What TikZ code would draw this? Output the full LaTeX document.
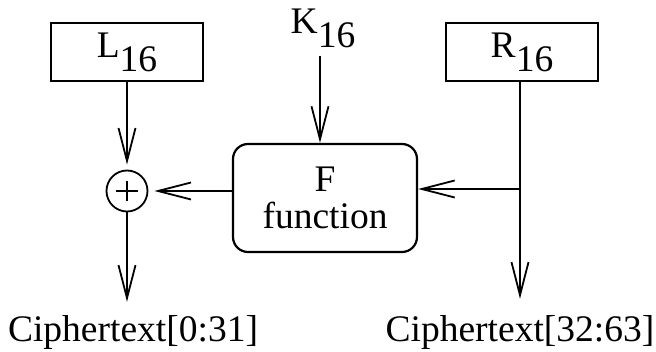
\documentclass[tikz,border=0pt]{standalone}
\usepackage{fontspec}
\setmainfont{Liberation Serif}
\usetikzlibrary{arrows.meta}
% full-size subscript, only lowered
\newcommand\lowsub[1]{\lower14pt\hbox{#1}}
\begin{document}
\begin{tikzpicture}[x=1pt,y=-1pt,
  every node/.style={font=\fontsize{37.5}{37}\selectfont, inner sep=0pt},
  regbox/.style={draw, line width=2.4pt, minimum width=152pt, minimum height=58pt},
  fbox/.style={draw, line width=2.2pt, rounded corners=15pt, minimum width=184pt,
    minimum height=108pt, align=center},
  xorc/.style={draw, circle, line width=1.8pt, minimum size=41pt,
    path picture={
      \draw[line width=1.8pt] ([xshift=-11pt]path picture bounding box.center) -- ([xshift=11pt]path picture bounding box.center);
      \draw[line width=1.8pt] ([yshift=-10pt]path picture bounding box.center) -- ([yshift=10pt]path picture bounding box.center);
    }},
  wire/.style={line width=1.8pt},
  conn/.style={wire, -{Straight Barb[length=33pt,width=17pt,line width=1.8pt]}}]
\useasboundingbox (0,0) rectangle (656,352);

% registers, key and round function
\node[regbox] (l) at (127,52) {L\lowsub{16}};
\node[regbox] (r) at (522,52) {R\lowsub{16}};
\node (k) at (323,28) {K\lowsub{16}};
\node[fbox] (f) at (325,198) {F\\function};
\node[xorc] (x) at (127,191) {};

% outputs
\node[anchor=base] (c1) at (133,342) {Ciphertext[0:31]};
\node[anchor=base] (c2) at (520,342) {Ciphertext[32:63]};

% right half feeds F and becomes the right output
\coordinate (rs) at (520,81);
\coordinate (br) at (520,189);
\draw[conn, shorten >=17pt] (rs) -- (rs |- c2.north);
\draw[conn] (br) -- (br -| f.east);

% key into F
\draw[conn, shorten <=8pt] ([xshift=-3pt]k.south) -- ([xshift=-3pt]k.south |- f.north);

% F output and left half into the XOR
\draw[conn, shorten >=6pt] (f.west |- x) -- (x.east);
\draw[conn, shorten >=5pt] (l.south) -- (x.north);

% XOR result to the left output
\draw[conn, shorten >=14pt] (x.south) -- (x.south |- c1.north);
\end{tikzpicture}
\end{document}
